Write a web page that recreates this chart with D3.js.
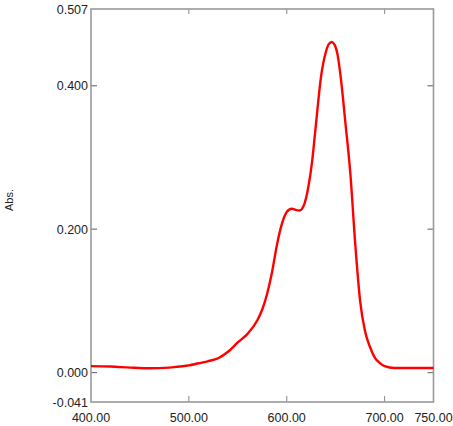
<!DOCTYPE html>
<html>
<head>
<script src="https://d3js.org/d3.v7.min.js"></script>
<style>
  body { margin: 0; background: white; }
  text { font-family: 'Liberation Sans', Arial, sans-serif; fill: #222; }
</style>
</head>
<body>
<svg id="chart"></svg>
<script>
// spectrum
var wavelength = [400, 420, 440, 460, 480, 490, 500, 510, 520, 530, 540, 550, 560, 570, 575, 580, 585, 590, 595, 600,
                  605, 610, 613, 618, 622, 626, 630, 635, 640, 643, 646, 649, 652, 655, 660, 665, 670, 675, 680,
                  685, 690, 695, 700, 710, 730, 750];
var absorbance = [0.009, 0.0085, 0.007, 0.006, 0.007, 0.0085, 0.010, 0.013, 0.016, 0.020, 0.029, 0.042, 0.054, 0.073, 0.088, 0.110, 0.140, 0.178, 0.207, 0.224,
                  0.2285, 0.2265, 0.226, 0.235, 0.258, 0.295, 0.348, 0.412, 0.447, 0.458, 0.461, 0.457, 0.443, 0.414, 0.348, 0.278, 0.180, 0.100, 0.058,
                  0.036, 0.021, 0.0135, 0.009, 0.0065, 0.0065, 0.0065];
var xTicks = [400, 500, 600, 700, 750];
var yTicks = [-0.041, 0.000, 0.200, 0.400, 0.507];
var yLabel = "Abs.";

var width = 453, height = 426;
// plot frame (note: "top" is reserved on window, so use a prefix)
var pLeft = 91, pRight = 433.5, pTop = 9, pBottom = 402;

var svg = d3.select("#chart").attr("width", width).attr("height", height);

var x = d3.scaleLinear().domain([400, 750]).range([pLeft, pRight]);
var y = d3.scaleLinear().domain([-0.041, 0.507]).range([pBottom, pTop]);

var axisColor = "#999";

// ticks inside the frame
var inner = [500, 600, 700];
svg.selectAll(".xt").data(inner).enter().append("line")
  .attr("x1", d => x(d)).attr("x2", d => x(d))
  .attr("y1", pBottom).attr("y2", pBottom - 6)
  .attr("stroke", axisColor).attr("stroke-width", 1.2);
svg.selectAll(".xtt").data(inner).enter().append("line")
  .attr("x1", d => x(d)).attr("x2", d => x(d))
  .attr("y1", pTop).attr("y2", pTop + 5)
  .attr("stroke", axisColor).attr("stroke-width", 1.2);
var yInner = [0, 0.2, 0.4];
svg.selectAll(".yt").data(yInner).enter().append("line")
  .attr("x1", pLeft).attr("x2", pLeft + 6)
  .attr("y1", d => y(d)).attr("y2", d => y(d))
  .attr("stroke", "#777").attr("stroke-width", 1.2);
svg.selectAll(".ytr").data(yInner).enter().append("line")
  .attr("x1", pRight).attr("x2", pRight - 6)
  .attr("y1", d => y(d)).attr("y2", d => y(d))
  .attr("stroke", "#777").attr("stroke-width", 1.2);

// frame
svg.append("rect")
  .attr("x", pLeft).attr("y", pTop)
  .attr("width", pRight - pLeft).attr("height", pBottom - pTop)
  .attr("fill", "none").attr("stroke", axisColor).attr("stroke-width", 1.6);

// labels
svg.selectAll(".xl").data(xTicks).enter().append("text")
  .attr("x", d => x(d)).attr("y", 422)
  .attr("text-anchor", "middle").attr("font-size", "12.5px")
  .text(d => d.toFixed(2));
svg.selectAll(".yl").data(yTicks).enter().append("text")
  .attr("x", pLeft - 3).attr("y", d => y(d) + 4.5)
  .attr("text-anchor", "end").attr("font-size", "12.5px")
  .text(d => d.toFixed(3));

svg.append("text")
  .attr("transform", "translate(13,200) rotate(-90)")
  .attr("text-anchor", "middle").attr("font-size", "11px")
  .text(yLabel);

// curve
var line = d3.line()
  .x(d => x(d[0])).y(d => y(d[1]))
  .curve(d3.curveMonotoneX);
svg.append("path")
  .datum(wavelength.map((w, i) => [w, absorbance[i]]))
  .attr("d", line)
  .attr("fill", "none").attr("stroke", "#ff0000").attr("stroke-width", 2.4);
</script>
</body>
</html>
